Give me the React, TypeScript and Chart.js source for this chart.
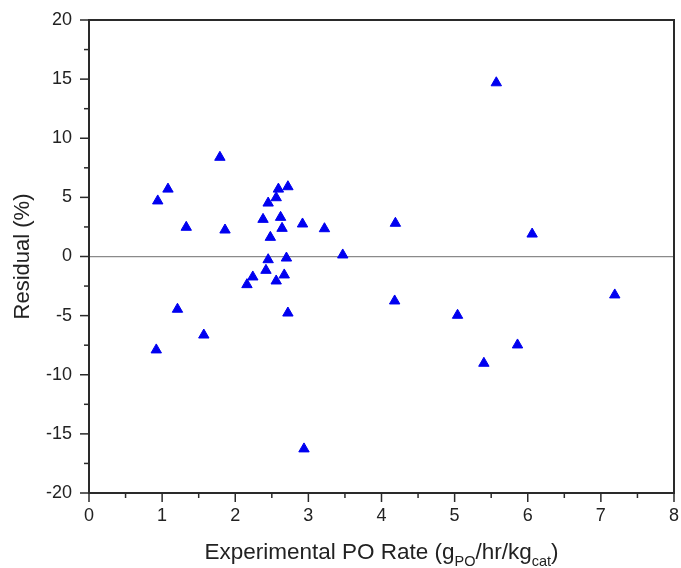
import React, { useEffect, useRef } from "react";
import { Chart, registerables } from "chart.js";

Chart.register(...registerables);

const xValues = [
  0.92, 0.94, 1.08, 1.21, 1.33, 1.57, 1.79, 1.86, 2.16, 2.24, 2.38, 2.42,
  2.45, 2.45, 2.48, 2.56, 2.56, 2.59, 2.62, 2.64, 2.67, 2.7, 2.72, 2.72,
  2.92, 2.94, 3.22, 3.47, 4.18, 4.19, 5.04, 5.4, 5.57, 5.86, 6.06, 7.19,
];
const yValues = [
  -7.9, 4.7, 5.7, -4.46, 2.47, -6.64, 8.39, 2.24, -2.38, -1.73, 3.14, -1.17,
  -0.27, 4.52, 1.62, 4.97, -2.07, 5.7, 3.31, 2.38, -1.56, -0.13, 5.9, -4.78,
  2.75, -16.27, 2.35, 0.13, -3.76, 2.81, -4.97, -9.03, 14.69, -7.48, 1.9, -3.25,
];
const xTicks = [0, 1, 2, 3, 4, 5, 6, 7, 8];
const yTicks = [-20, -15, -10, -5, 0, 5, 10, 15, 20];
const yTitle = "Residual (%)";
const xTitleParts = [
  { text: "Experimental PO Rate (g", sub: false },
  { text: "PO", sub: true },
  { text: "/hr/kg", sub: false },
  { text: "cat", sub: true },
  { text: ")", sub: false },
];

const FONT = "'Liberation Sans', Arial, sans-serif";
const AXIS = "#2a2a2a";

const framePlugin = {
  id: "frameAndTicks",
  afterDraw(chart: any) {
    const ctx = chart.ctx;
    const { left, right, top, bottom } = chart.chartArea;
    const xs = chart.scales.x;
    const ys = chart.scales.y;
    ctx.save();
    ctx.strokeStyle = AXIS;
    ctx.lineWidth = 2;
    ctx.strokeRect(left, top, right - left, bottom - top);
    ctx.lineWidth = 1.5;
    for (let i = 0; i < yTicks.length; i++) {
      const v = yTicks[i];
      const p = ys.getPixelForValue(v);
      ctx.beginPath();
      ctx.moveTo(left - 9, p);
      ctx.lineTo(left, p);
      ctx.stroke();
      if (i < yTicks.length - 1) {
        const m = ys.getPixelForValue((v + yTicks[i + 1]) / 2);
        ctx.beginPath();
        ctx.moveTo(left - 5, m);
        ctx.lineTo(left, m);
        ctx.stroke();
      }
    }
    for (let i = 0; i < xTicks.length; i++) {
      const v = xTicks[i];
      const p = xs.getPixelForValue(v);
      ctx.beginPath();
      ctx.moveTo(p, bottom);
      ctx.lineTo(p, bottom + 9);
      ctx.stroke();
      if (i < xTicks.length - 1) {
        const m = xs.getPixelForValue((v + xTicks[i + 1]) / 2);
        ctx.beginPath();
        ctx.moveTo(m, bottom);
        ctx.lineTo(m, bottom + 5);
        ctx.stroke();
      }
    }
    const mainFont = `22.5px ${FONT}`;
    const subFont = `14.5px ${FONT}`;
    let total = 0;
    for (const part of xTitleParts) {
      ctx.font = part.sub ? subFont : mainFont;
      total += ctx.measureText(part.text).width;
    }
    let x = (left + right) / 2 - total / 2;
    const base = bottom + 66;
    ctx.fillStyle = "#222";
    ctx.textBaseline = "alphabetic";
    ctx.textAlign = "left";
    for (const part of xTitleParts) {
      ctx.font = part.sub ? subFont : mainFont;
      ctx.fillText(part.text, x, part.sub ? base + 7 : base);
      x += ctx.measureText(part.text).width;
    }
    ctx.restore();
  },
};

const bgPlugin = {
  id: "bg",
  beforeDraw(chart: any) {
    const ctx = chart.ctx;
    ctx.save();
    ctx.fillStyle = "#ffffff";
    ctx.fillRect(0, 0, chart.width, chart.height);
    ctx.restore();
  },
};

export default function App() {
  const ref = useRef<HTMLCanvasElement | null>(null);
  useEffect(() => {
    if (!ref.current) return;
    const data = xValues.map((x, i) => ({ x, y: yValues[i] }));
    const chart = new Chart(ref.current, {
      type: "scatter",
      data: {
        datasets: [
          {
            data,
            pointStyle: "triangle",
            pointRadius: 6,
            pointBorderWidth: 1,
            backgroundColor: "#0000f0",
            borderColor: "#0000f0",
          },
        ],
      },
      options: {
        responsive: true,
        maintainAspectRatio: false,
        animation: false,
        layout: { padding: { top: 20, right: 7, left: 0, bottom: 0 } },
        plugins: {
          legend: { display: false },
          tooltip: { enabled: false },
        },
        scales: {
          x: {
            type: "linear",
            min: 0,
            max: 8,
            afterBuildTicks: (s: any) => {
              s.ticks = xTicks.map((v) => ({ value: v }));
            },
            afterFit: (s: any) => {
              s.height = 75;
              s.paddingLeft = 0;
              s.paddingRight = 0;
            },
            grid: { display: false, drawTicks: false },
            border: { display: false },
            ticks: {
              padding: 12,
              color: "#222",
              font: { family: FONT, size: 18 },
              maxRotation: 0,
            },
          },
          y: {
            type: "linear",
            min: -20,
            max: 20,
            afterBuildTicks: (s: any) => {
              s.ticks = yTicks.map((v) => ({ value: v }));
            },
            afterFit: (s: any) => {
              s.width = 89;
              s.paddingTop = 0;
              s.paddingBottom = 0;
            },
            grid: {
              drawTicks: false,
              color: (c: any) =>
                c.tick && c.tick.value === 0 ? "#8a8a8a" : "rgba(0,0,0,0)",
              lineWidth: 1.2,
            },
            border: { display: false },
            ticks: {
              padding: 17,
              color: "#222",
              font: { family: FONT, size: 18 },
            },
            title: {
              display: true,
              text: yTitle,
              color: "#222",
              font: { family: FONT, size: 22 },
              padding: { top: 10, bottom: 0 },
            },
          },
        },
      },
      plugins: [bgPlugin, framePlugin],
    });
    return () => chart.destroy();
  }, []);

  return (
    <div
      style={{
        position: "fixed",
        left: 0,
        top: 0,
        width: 681,
        height: 568,
        background: "#fff",
      }}
    >
      <canvas ref={ref} />
    </div>
  );
}
